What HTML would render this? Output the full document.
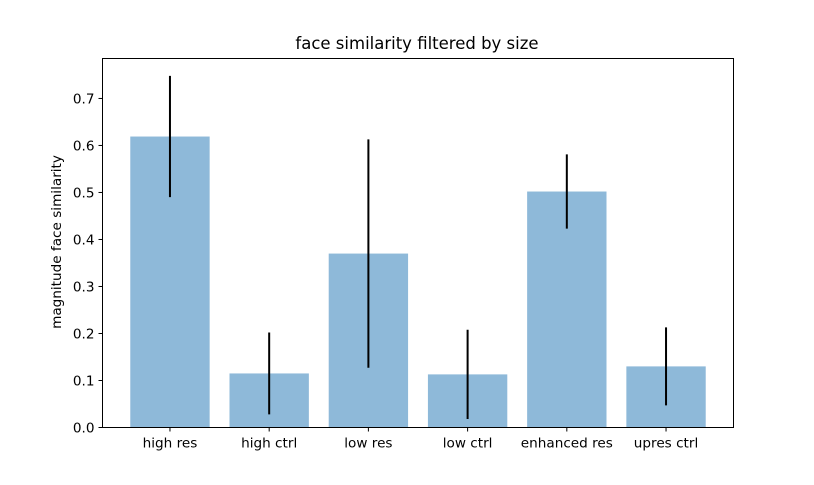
<!DOCTYPE html>
<html><head><meta charset="utf-8"><style>
body{margin:0;background:#fff;width:814px;height:480px;overflow:hidden}
text{font-family:"DejaVu Sans","Liberation Sans",sans-serif;fill:#000}
</style></head><body>
<svg id="chart" width="814" height="480">
<rect width="814" height="480" fill="#fff"/>
<text x="417" y="49" font-size="16.5" text-anchor="middle">face similarity filtered by size</text>
<text transform="translate(61,242) rotate(-90)" font-size="13.6" text-anchor="middle">magnitude face similarity</text>
<g id="bars"></g><g id="errs"></g><g id="yt"></g><g id="xt"></g>
<rect x="102.5" y="58.5" width="631" height="369" fill="none" stroke="#000" stroke-width="1"/>
</svg>
<script>
const categories=["high res","high ctrl","low res","low ctrl","enhanced res","upres ctrl"];
const values=[0.619,0.115,0.370,0.113,0.502,0.130];
const errors=[0.129,0.087,0.243,0.095,0.079,0.083];
const yTicks=[0,0.1,0.2,0.3,0.4,0.5,0.6,0.7];
const yTickLabels=["0.0","0.1","0.2","0.3","0.4","0.5","0.6","0.7"];
const L=102.5,R=733.5,T=58.5,B=427.5,ymax=0.785,xmin=-0.68,xmax=5.68;
const ns="http://www.w3.org/2000/svg";
const y=v=>B-(v/ymax)*(B-T);
const x=i=>L+(i-xmin)/(xmax-xmin)*(R-L);
const bw=0.8*(R-L)/(xmax-xmin);
function mk(t,a,p){const e=document.createElementNS(ns,t);for(const k in a)e.setAttribute(k,a[k]);document.getElementById(p).appendChild(e);return e;}
categories.forEach((c,i)=>{
 const b=mk("rect",{x:x(i)-bw/2,y:y(values[i]),width:bw,height:B-y(values[i]),fill:"#8eb9d9"},"bars");
 
 
 const e=mk("line",{x1:x(i),x2:x(i),y1:y(values[i]+errors[i]),y2:y(values[i]-errors[i]),stroke:"#000","stroke-width":2},"errs");
 
 
 const tk=mk("line",{x1:x(i),x2:x(i),y1:B,y2:B+4,stroke:"#000"},"xt");
 
 
 const t=mk("text",{x:x(i),y:B+20,"font-size":13.6,"text-anchor":"middle"},"xt");
 t.textContent=c;
 
 
});
yTicks.forEach((v,i)=>{
 const tk=mk("line",{x1:L-4,x2:L,y1:y(v),y2:y(v),stroke:"#000"},"yt");
 
 
 const t=mk("text",{x:L-8,y:y(v)+5,"font-size":13.6,"text-anchor":"end"},"yt");
 t.textContent=yTickLabels[i];
 
 
});
</script>
</body></html>
